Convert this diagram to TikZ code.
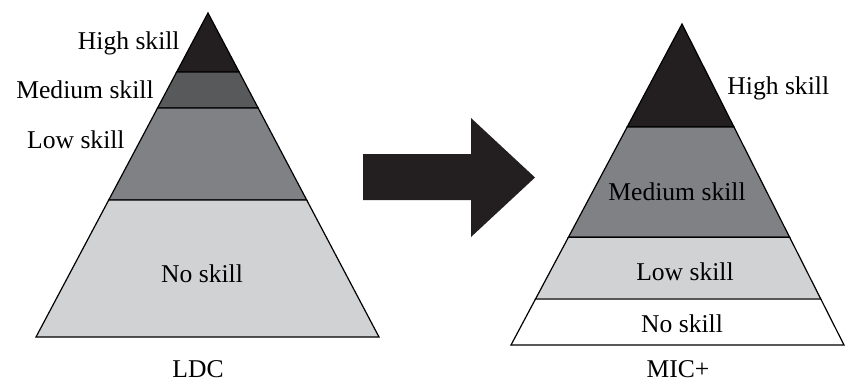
\documentclass[tikz,border=0pt]{standalone}
\usepackage{fontspec}
\setmainfont{Liberation Serif}
\usetikzlibrary{calc}

\definecolor{skillblack}{RGB}{35,31,32}
\definecolor{skilldark}{RGB}{88,89,91}
\definecolor{skillgray}{RGB}{128,129,132}
\definecolor{skilllight}{RGB}{209,210,212}

\begin{document}
\begin{tikzpicture}[
    x=0.5pt, y=-0.5pt,
    band/.style={draw=black, line width=0.6pt, line join=miter},
    lbl/.style={font=\fontsize{12.8}{15}\selectfont, inner sep=0pt},
    bigarrow/.style={fill=skillblack, draw=none}
]
\useasboundingbox (0,0) rectangle (845,382);

% Left pyramid (LDC)
\coordinate (lapex) at (208,13);
\coordinate (lbl-b) at (36,337);
\coordinate (lbr-b) at (379,337);
\coordinate (l1l) at ($(lapex)!0.182!(lbl-b)$);
\coordinate (l1r) at ($(lapex)!0.182!(lbr-b)$);
\coordinate (l2l) at ($(lapex)!0.293!(lbl-b)$);
\coordinate (l2r) at ($(lapex)!0.293!(lbr-b)$);
\coordinate (l3l) at ($(lapex)!0.577!(lbl-b)$);
\coordinate (l3r) at ($(lapex)!0.577!(lbr-b)$);

\filldraw[band, fill=skillblack] (lapex) -- (l1r) -- (l1l) -- cycle;
\filldraw[band, fill=skilldark] (l1l) -- (l1r) -- (l2r) -- (l2l) -- cycle;
\filldraw[band, fill=skillgray] (l2l) -- (l2r) -- (l3r) -- (l3l) -- cycle;
\filldraw[band, fill=skilllight] (l3l) -- (l3r) -- (lbr-b) -- (lbl-b) -- cycle;

\node[lbl, anchor=east] (lhigh) at (180,43) {High skill};
\node[lbl, anchor=east] (lmed) at (154,90) {Medium skill};
\node[lbl, anchor=east] (llow) at (125,140) {Low skill};
\node[lbl] (lno) at (202,274) {No skill};
\node[lbl] (ldc) at (198,369) {LDC};

% Arrow
\fill[bigarrow] (363,154) -- (471,154) -- (471,118) -- (535,177.5)
    -- (471,237) -- (471,200) -- (363,200) -- cycle;

% Right pyramid (MIC+)
\coordinate (rapex) at (682,24);
\coordinate (rbl-b) at (511,345);
\coordinate (rbr-b) at (844,345);
\coordinate (r1l) at ($(rapex)!0.321!(rbl-b)$);
\coordinate (r1r) at ($(rapex)!0.321!(rbr-b)$);
\coordinate (r2l) at ($(rapex)!0.664!(rbl-b)$);
\coordinate (r2r) at ($(rapex)!0.664!(rbr-b)$);
\coordinate (r3l) at ($(rapex)!0.857!(rbl-b)$);
\coordinate (r3r) at ($(rapex)!0.857!(rbr-b)$);

\filldraw[band, fill=skillblack] (rapex) -- (r1r) -- (r1l) -- cycle;
\filldraw[band, fill=skillgray] (r1l) -- (r1r) -- (r2r) -- (r2l) -- cycle;
\filldraw[band, fill=skilllight] (r2l) -- (r2r) -- (r3r) -- (r3l) -- cycle;
\filldraw[band, fill=white] (r3l) -- (r3r) -- (rbr-b) -- (rbl-b) -- cycle;

\node[lbl, anchor=west] (rhigh) at (727,88) {High skill};
\node[lbl] (rmed) at (677,192) {Medium skill};
\node[lbl] (rlow) at (685,272) {Low skill};
\node[lbl] (rno) at (682,324) {No skill};
\node[lbl] (mic) at (678,369) {MIC+};

\end{tikzpicture}
\end{document}
